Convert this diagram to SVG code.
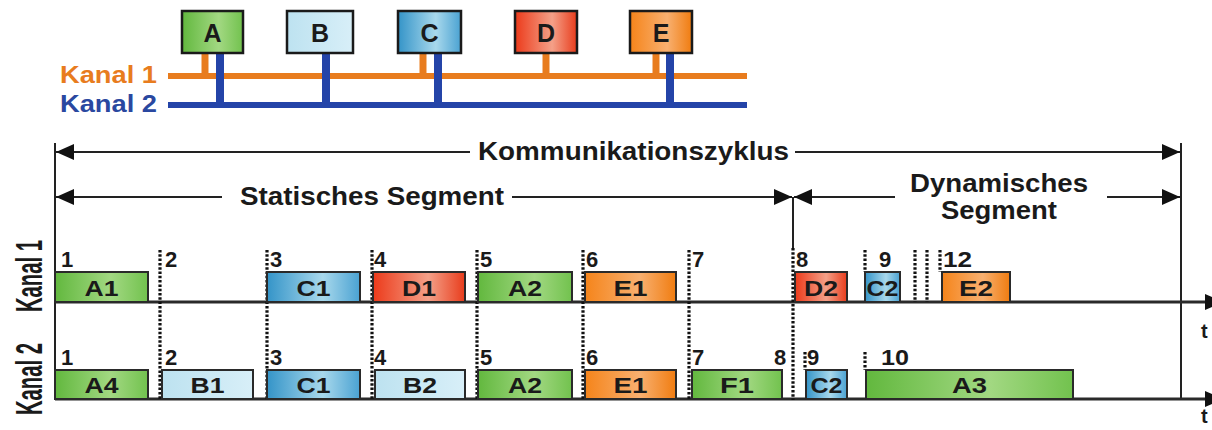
<svg xmlns="http://www.w3.org/2000/svg" width="1212" height="430" viewBox="0 0 1212 430">
  <style>
    text { font-family: "Liberation Sans", Arial, sans-serif; font-weight: bold; fill: #1a1a1a; }
    .bus-label { font-size: 23px; text-anchor: end; }
    .node rect { stroke: #1a1a1a; stroke-width: 2.5; }
    .node text { font-size: 25px; text-anchor: middle; }
    .slot rect { stroke: #2a2a2a; stroke-width: 2; }
    .slot text { font-size: 22px; text-anchor: middle; }
    .num { font-size: 22px; }
    .tlabel { font-size: 20px; }
    .title { font-size: 25px; }
    .row-label { font-size: 36px; text-anchor: middle; }
    .dim { stroke: #222; stroke-width: 2; fill: none; }
    .axis { stroke: #2a2a2a; stroke-width: 3; fill: none; }
    .slotline { stroke: #111; stroke-width: 3.2; stroke-dasharray: 2.5 1.8; fill: none; }
    .orange { stroke: #e87c1e; fill: none; }
    .blue { stroke: #2444a8; fill: none; }
  </style>
  <defs>
    <marker id="arrow" markerUnits="userSpaceOnUse" markerWidth="18" markerHeight="16" refX="18" refY="8" orient="auto">
      <path d="M0,0 L18,8 L0,16 z" fill="#111"/>
    </marker>
    <linearGradient id="gGreen" x1="0" y1="0" x2="1" y2="0">
      <stop offset="0" stop-color="#62b83e"/>
      <stop offset="0.6" stop-color="#a2d882"/>
      <stop offset="1" stop-color="#72c24e"/>
    </linearGradient>
    <linearGradient id="gLight" x1="0" y1="0" x2="1" y2="0">
      <stop offset="0" stop-color="#bde2f0"/>
      <stop offset="1" stop-color="#d8eff8"/>
    </linearGradient>
    <linearGradient id="gCyan" x1="0" y1="0" x2="1" y2="0">
      <stop offset="0" stop-color="#3494c8"/>
      <stop offset="0.6" stop-color="#a8d8ec"/>
      <stop offset="1" stop-color="#4aa2d2"/>
    </linearGradient>
    <linearGradient id="gRed" x1="0" y1="0" x2="1" y2="0">
      <stop offset="0" stop-color="#ec3a1a"/>
      <stop offset="0.6" stop-color="#f4a088"/>
      <stop offset="1" stop-color="#e83c1c"/>
    </linearGradient>
    <linearGradient id="gOrange" x1="0" y1="0" x2="1" y2="0">
      <stop offset="0" stop-color="#f5841a"/>
      <stop offset="0.6" stop-color="#f8b070"/>
      <stop offset="1" stop-color="#f07c10"/>
    </linearGradient>
  </defs>

  <rect width="1212" height="430" fill="#ffffff"/>

  <!-- bus labels -->
  <text class="bus-label" x="157" y="83" style="fill:#e87c1e" textLength="97" lengthAdjust="spacingAndGlyphs">Kanal 1</text>
  <text class="bus-label" x="157" y="112" style="fill:#2a48a0" textLength="97" lengthAdjust="spacingAndGlyphs">Kanal 2</text>

  <!-- bus wiring, dimension arrows, time axes and slot boundaries -->
  <g id="connectors">
    <line class="orange" x1="168" y1="76" x2="747" y2="76" stroke-width="6"/>
    <line class="blue" x1="168" y1="105" x2="747" y2="105" stroke-width="6"/>
    <g class="orange" stroke-width="7">
      <line x1="205" y1="53" x2="205" y2="76"/>
      <line x1="423" y1="53" x2="423" y2="76"/>
      <line x1="546" y1="53" x2="546" y2="76"/>
      <line x1="656" y1="53" x2="656" y2="76"/>
    </g>
    <g class="blue" stroke-width="8">
      <line x1="220" y1="53" x2="220" y2="105"/>
      <line x1="326" y1="53" x2="326" y2="105"/>
      <line x1="438" y1="53" x2="438" y2="105"/>
      <line x1="670" y1="53" x2="670" y2="105"/>
    </g>

    <line class="dim" x1="55" y1="143" x2="55" y2="400"/>
    <line class="dim" x1="1181" y1="143" x2="1181" y2="400"/>
    <line class="dim" x1="793" y1="197" x2="793" y2="248"/>
    <path class="dim" d="M470,152 H56" marker-end="url(#arrow)"/>
    <path class="dim" d="M795,152 H1180" marker-end="url(#arrow)"/>
    <path class="dim" d="M222,197 H56" marker-end="url(#arrow)"/>
    <path class="dim" d="M512,197 H792" marker-end="url(#arrow)"/>
    <path class="dim" d="M895,197 H794" marker-end="url(#arrow)"/>
    <path class="dim" d="M1107,197 H1180" marker-end="url(#arrow)"/>

    <path class="axis" d="M55,302 H1223" marker-end="url(#arrow)"/>
    <path class="axis" d="M55,399 H1223" marker-end="url(#arrow)"/>

    <path class="slotline" d="M160,250 V400 M267,250 V400 M372,250 V400 M477,250 V400 M583,250 V400 M689,250 V400 M793,248 V400"/>
    <path class="slotline" d="M865,250 V272 M915,250 V302 M927,250 V302 M940,250 V272 M805,352 V370 M865,352 V370"/>
  </g>

  <!-- dimension labels -->
  <text class="title" x="478" y="160" textLength="311" lengthAdjust="spacingAndGlyphs">Kommunikationszyklus</text>
  <text class="title" x="240" y="205" textLength="264" lengthAdjust="spacingAndGlyphs">Statisches Segment</text>
  <text class="title" x="910" y="192" textLength="178" lengthAdjust="spacingAndGlyphs">Dynamisches</text>
  <text class="title" x="941" y="219" textLength="116" lengthAdjust="spacingAndGlyphs">Segment</text>

  <!-- row labels -->
  <text class="row-label" transform="translate(42,276) rotate(-90)" textLength="72" lengthAdjust="spacingAndGlyphs">Kanal 1</text>
  <text class="row-label" transform="translate(42,379) rotate(-90)" textLength="72" lengthAdjust="spacingAndGlyphs">Kanal 2</text>

  <!-- bus nodes -->
  <g id="node-A" class="node"><rect x="182" y="11" width="61" height="42" fill="url(#gGreen)"/><text x="212.5" y="42">A</text></g>
  <g id="node-B" class="node"><rect x="287" y="11" width="66" height="42" fill="url(#gLight)"/><text x="320" y="42">B</text></g>
  <g id="node-C" class="node"><rect x="398" y="11" width="63" height="42" fill="url(#gCyan)"/><text x="429.5" y="42">C</text></g>
  <g id="node-D" class="node"><rect x="515" y="11" width="62" height="42" fill="url(#gRed)"/><text x="546" y="42">D</text></g>
  <g id="node-E" class="node"><rect x="630" y="11" width="62" height="42" fill="url(#gOrange)"/><text x="661" y="42">E</text></g>

  <!-- channel 1 frames -->
  <g id="k1-A1" class="slot"><rect x="55" y="272" width="93" height="30" fill="url(#gGreen)"/><text x="101.5" y="296" textLength="34" lengthAdjust="spacingAndGlyphs">A1</text></g>
  <g id="k1-C1" class="slot"><rect x="267" y="272" width="93" height="30" fill="url(#gCyan)"/><text x="313.5" y="296" textLength="34" lengthAdjust="spacingAndGlyphs">C1</text></g>
  <g id="k1-D1" class="slot"><rect x="373" y="272" width="92" height="30" fill="url(#gRed)"/><text x="419" y="296" textLength="34" lengthAdjust="spacingAndGlyphs">D1</text></g>
  <g id="k1-A2" class="slot"><rect x="478" y="272" width="94" height="30" fill="url(#gGreen)"/><text x="525" y="296" textLength="34" lengthAdjust="spacingAndGlyphs">A2</text></g>
  <g id="k1-E1" class="slot"><rect x="585" y="272" width="91" height="30" fill="url(#gOrange)"/><text x="630.5" y="296" textLength="34" lengthAdjust="spacingAndGlyphs">E1</text></g>
  <g id="k1-D2" class="slot"><rect x="795" y="272" width="52" height="30" fill="url(#gRed)"/><text x="821" y="296" textLength="34" lengthAdjust="spacingAndGlyphs">D2</text></g>
  <g id="k1-C2" class="slot"><rect x="865" y="272" width="35" height="30" fill="url(#gCyan)"/><text x="882.5" y="296" textLength="32" lengthAdjust="spacingAndGlyphs">C2</text></g>
  <g id="k1-E2" class="slot"><rect x="942" y="272" width="68" height="30" fill="url(#gOrange)"/><text x="976" y="296" textLength="34" lengthAdjust="spacingAndGlyphs">E2</text></g>

  <!-- channel 2 frames -->
  <g id="k2-A4" class="slot"><rect x="55" y="370" width="93" height="29" fill="url(#gGreen)"/><text x="101.5" y="393" textLength="34" lengthAdjust="spacingAndGlyphs">A4</text></g>
  <g id="k2-B1" class="slot"><rect x="162" y="370" width="91" height="29" fill="url(#gLight)"/><text x="207.5" y="393" textLength="34" lengthAdjust="spacingAndGlyphs">B1</text></g>
  <g id="k2-C1" class="slot"><rect x="267" y="370" width="93" height="29" fill="url(#gCyan)"/><text x="313.5" y="393" textLength="34" lengthAdjust="spacingAndGlyphs">C1</text></g>
  <g id="k2-B2" class="slot"><rect x="375" y="370" width="90" height="29" fill="url(#gLight)"/><text x="420" y="393" textLength="34" lengthAdjust="spacingAndGlyphs">B2</text></g>
  <g id="k2-A2" class="slot"><rect x="478" y="370" width="94" height="29" fill="url(#gGreen)"/><text x="525" y="393" textLength="34" lengthAdjust="spacingAndGlyphs">A2</text></g>
  <g id="k2-E1" class="slot"><rect x="585" y="370" width="91" height="29" fill="url(#gOrange)"/><text x="630.5" y="393" textLength="34" lengthAdjust="spacingAndGlyphs">E1</text></g>
  <g id="k2-F1" class="slot"><rect x="692" y="370" width="90" height="29" fill="url(#gGreen)"/><text x="737" y="393" textLength="34" lengthAdjust="spacingAndGlyphs">F1</text></g>
  <g id="k2-C2" class="slot"><rect x="806" y="370" width="41" height="29" fill="url(#gCyan)"/><text x="826.5" y="393" textLength="32" lengthAdjust="spacingAndGlyphs">C2</text></g>
  <g id="k2-A3" class="slot"><rect x="866" y="370" width="207" height="29" fill="url(#gGreen)"/><text x="969.5" y="393" textLength="35" lengthAdjust="spacingAndGlyphs">A3</text></g>

  <!-- slot numbers -->
  <g>
    <text class="num" x="61" y="267">1</text>
    <text class="num" x="165" y="267">2</text>
    <text class="num" x="270" y="267">3</text>
    <text class="num" x="374" y="267">4</text>
    <text class="num" x="480" y="267">5</text>
    <text class="num" x="586" y="267">6</text>
    <text class="num" x="692" y="267">7</text>
    <text class="num" x="796" y="267">8</text>
    <text class="num" x="879" y="267">9</text>
    <text class="num" x="943" y="267" textLength="29" lengthAdjust="spacingAndGlyphs">12</text>
    <text class="num" x="61" y="365">1</text>
    <text class="num" x="165" y="365">2</text>
    <text class="num" x="270" y="365">3</text>
    <text class="num" x="374" y="365">4</text>
    <text class="num" x="480" y="365">5</text>
    <text class="num" x="586" y="365">6</text>
    <text class="num" x="692" y="365">7</text>
    <text class="num" x="774" y="365">8</text>
    <text class="num" x="807" y="365">9</text>
    <text class="num" x="881" y="365" textLength="28" lengthAdjust="spacingAndGlyphs">10</text>
  </g>

  <!-- time axis labels -->
  <text class="tlabel" x="1201" y="338">t</text>
  <text class="tlabel" x="1201" y="423">t</text>
</svg>
